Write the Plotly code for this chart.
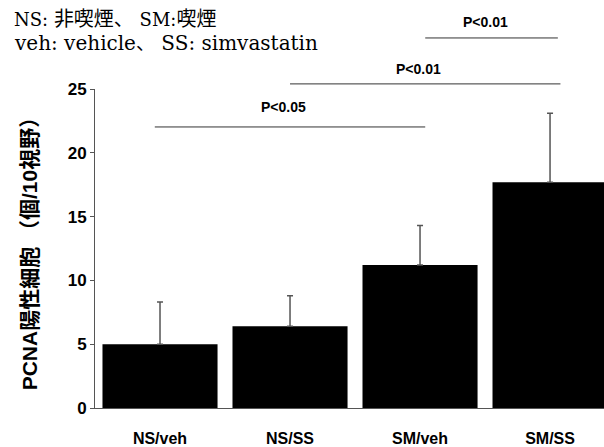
import plotly.graph_objects as go

categories = ["NS/veh", "NS/SS", "SM/veh", "SM/SS"]
means = [5.0, 6.4, 11.2, 17.7]
sd_upper = [3.3, 2.4, 3.1, 5.4]
y_ticks = [0, 5, 10, 15, 20, 25]
comparisons = [(0, 2, "P<0.05"), (1, 3, "P<0.01"), (2, 3, "P<0.01")]
legend_lines = [
    'NS: <span style="font-size:20px">非喫煙、</span> SM:<span style="font-size:20px">喫煙</span>',
    'veh: vehicle<span style="font-size:19px">、</span> SS: simvastatin',
]
y_title = "PCNA陽性細胞 （個/10視野）"

fig = go.Figure()
fig.add_trace(go.Bar(
    x=list(range(len(categories))), y=means,
    marker=dict(color="black", line=dict(width=0)),
    error_y=dict(type="data", symmetric=False, array=sd_upper,
                 arrayminus=[0] * len(means),
                 color="#555555", thickness=1.5, width=3),
    width=0.885,
))

# significance brackets (paper y positions)
line_y = [0.881, 1.016, 1.160]
text_y = [0.944, 1.063, 1.210]
x_off = [(-0.04, 0.04), (0.0, 0.08), (0.04, 0.06)]
shapes = []
annotations = []
for k, (a, b, label) in enumerate(comparisons):
    shapes.append(dict(type="line", xref="x", yref="paper",
                       x0=a + x_off[k][0], x1=b + x_off[k][1],
                       y0=line_y[k], y1=line_y[k],
                       line=dict(color="#333333", width=1)))
    annotations.append(dict(xref="x", yref="paper",
                            x=(a + b) / 2 + (x_off[k][0] + x_off[k][1]) / 2 - 0.05,
                            y=text_y[k], text="<b>%s</b>" % label, showarrow=False,
                            font=dict(family="Liberation Sans", size=14, color="black"),
                            xanchor="center", yanchor="middle"))

annotations.append(dict(xref="paper", yref="paper", x=-0.163, y=1.218,
                        text=legend_lines[0], showarrow=False, xanchor="left",
                        yanchor="middle",
                        font=dict(family="DejaVu Serif, Noto Sans CJK JP", size=18, color="black")))
annotations.append(dict(xref="paper", yref="paper", x=-0.163, y=1.143,
                        text=legend_lines[1], showarrow=False, xanchor="left",
                        yanchor="middle",
                        font=dict(family="DejaVu Serif, Noto Sans CJK JP", size=20, color="black")))

annotations.append(dict(xref="paper", yref="paper", x=-0.128, y=0.5,
                        text="<b>" + y_title + "</b>", showarrow=False, textangle=-90,
                        xanchor="center", yanchor="middle",
                        font=dict(family="Liberation Sans, Noto Sans CJK JP", size=21, color="black")))

fig.update_layout(
    width=604, height=447,
    margin=dict(l=95, r=0, t=89, b=39, autoexpand=False),
    paper_bgcolor="white", plot_bgcolor="white",
    showlegend=False,
    bargap=0.115,
    shapes=shapes, annotations=annotations,
    xaxis=dict(
        tickmode="array", tickvals=list(range(len(categories))),
        ticktext=["<b>%s</b>" % c for c in categories],
        range=[-0.5, 3.415], showline=True, linecolor="#555555", linewidth=1,
        ticks="", showgrid=False, zeroline=False, automargin=False,
        tickfont=dict(family="Liberation Sans", size=16, color="black"),
        ticklabelstandoff=16,
    ),
    yaxis=dict(
        range=[0, 25], tickvals=y_ticks,
        ticktext=["<b>%d</b>" % v for v in y_ticks],
        showline=True, linecolor="#555555", linewidth=1,
        ticks="outside", ticklen=4, tickcolor="#555555",
        showgrid=False, zeroline=False, automargin=False,
        tickfont=dict(family="Liberation Sans", size=17, color="black"),
    ),
)

fig.write_html("out.html", config={"displayModeBar": False},
               post_script="document.body.style.margin='0px';document.documentElement.style.margin='0px';")
